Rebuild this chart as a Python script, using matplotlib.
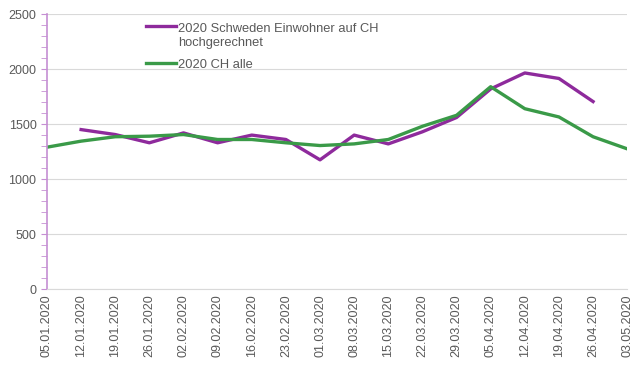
import matplotlib
matplotlib.use("Agg")
import matplotlib.pyplot as plt
from matplotlib.ticker import MultipleLocator

# data
dates = ["05.01.2020", "12.01.2020", "19.01.2020", "26.01.2020", "02.02.2020",
         "09.02.2020", "16.02.2020", "23.02.2020", "01.03.2020", "08.03.2020",
         "15.03.2020", "22.03.2020", "29.03.2020", "05.04.2020", "12.04.2020",
         "19.04.2020", "26.04.2020", "03.05.2020"]
schweden = [None, 1450, 1405, 1330, 1420, 1330, 1400, 1360, 1175, 1400,
            1320, 1430, 1560, 1820, 1965, 1915, 1705, None]
ch_alle = [1290, 1345, 1385, 1390, 1405, 1360, 1360, 1330, 1305, 1320,
           1360, 1480, 1580, 1840, 1640, 1565, 1385, 1275]

PURPLE = "#8E2A9C"
GREEN = "#3A9A48"
TEXT = "#595959"

plt.rcParams["font.family"] = ["Liberation Sans", "DejaVu Sans"]

x = list(range(len(dates)))
sw_x = [i for i, v in zip(x, schweden) if v is not None]
sw_y = [v for v in schweden if v is not None]

fig = plt.figure(figsize=(6.4, 3.72), dpi=100)
ax = fig.add_axes([0.0734, 0.223, 0.9066, 0.739])

ax.plot(sw_x, sw_y, color=PURPLE, lw=2.4, label="2020 Schweden Einwohner auf CH\nhochgerechnet")
ax.plot(x, ch_alle, color=GREEN, lw=2.4, label="2020 CH alle")

ax.set_xlim(0, len(dates) - 1)
ax.set_ylim(0, 2500)
ax.set_xticks(x)
ax.set_xticklabels(dates, rotation=90, fontsize=9, color=TEXT)
ax.yaxis.set_major_locator(MultipleLocator(500))
ax.yaxis.set_minor_locator(MultipleLocator(100))
ax.tick_params(axis="y", which="major", labelsize=9, labelcolor=TEXT,
               color="#C58FD3", length=4)
ax.tick_params(axis="y", which="minor", color="#C58FD3", length=4)
ax.tick_params(axis="x", length=0, pad=4)

ax.grid(axis="y", color="#D9D9D9", lw=0.8)
ax.set_axisbelow(True)
for s in ["top", "right"]:
    ax.spines[s].set_visible(False)
ax.spines["left"].set_color("#C58FD3")
ax.spines["left"].set_linewidth(1.2)
ax.spines["bottom"].set_color("#D9D9D9")

leg = ax.legend(loc="upper left", bbox_to_anchor=(0.155, 1.0), frameon=False,
                fontsize=9.3, labelcolor=TEXT, handlelength=2.3, handletextpad=0.2,
                labelspacing=0.75, borderaxespad=0.3)
# Excel puts the handle next to the first line of a wrapped label
h = leg.legend_handles[0]
h.set_ydata([v + 7.0 for v in h.get_ydata()])

fig.savefig("out.png", dpi=100)
